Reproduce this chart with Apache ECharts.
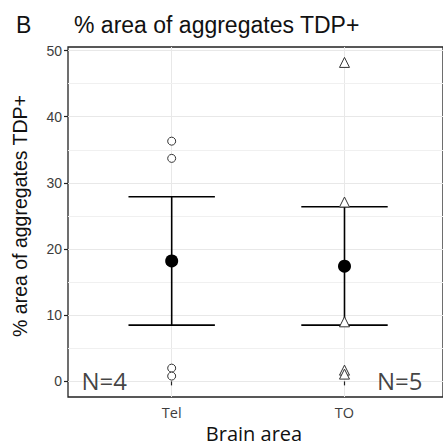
<!DOCTYPE html>
<html>
<head>
<meta charset="utf-8">
<script src="https://cdn.jsdelivr.net/npm/echarts@6/dist/echarts.min.js"></script>
<style>
html, body { margin: 0; padding: 0; background: #fff; }
#main { width: 443px; height: 446px; }
</style>
</head>
<body>
<div id="main"></div>
<script>
// data
var categories = ['Tel', 'TO'];
var telValues = [36.3, 33.7, 2.0, 0.8];
var toValues = [48.2, 27.1, 9.0, 1.7, 1.1];
var means = [18.2, 17.4];
var lower = [8.5, 8.5];
var upper = [27.9, 26.4];
var yTicks = [0, 10, 20, 30, 40, 50];
var yMinor = [5, 15, 25, 35, 45];

// svg renderer: rotated canvas text came out with a mirrored copy
var myChart = echarts.init(document.getElementById('main'), null, { renderer: 'svg' });

var rawStyle = { color: '#fff', borderColor: '#333', borderWidth: 1, opacity: 1 };

var option = {
    backgroundColor: '#fff',
    animation: false,
    textStyle: { fontFamily: 'Liberation Sans, Arial, sans-serif' },
    title: [
        { text: 'B', left: 11, top: 8, textStyle: { fontSize: 23, fontWeight: 'normal', color: '#111' } },
        { text: '% area of aggregates TDP+', left: 69, top: 8, textStyle: { fontSize: 23, fontWeight: 'normal', color: '#111' } }
    ],
    graphic: [
        {
            type: 'text', x: 20, y: 216, rotation: Math.PI / 2, silent: true,
            style: { text: '% area of aggregates TDP+', fontSize: 19.5, fill: '#111',
                     fontFamily: 'Liberation Sans, Arial, sans-serif', align: 'center', verticalAlign: 'middle' }
        },
        {
            type: 'text', x: 254, y: 433, silent: true,
            style: { text: 'Brain area', fontSize: 20, fill: '#111',
                     fontFamily: 'Open Sans, sans-serif', align: 'center', verticalAlign: 'middle' }
        }
    ],
    grid: {
        left: 68, top: 47, right: 0, bottom: 49,
        show: true, borderColor: '#222', borderWidth: 1.3, backgroundColor: 'transparent'
    },
    xAxis: {
        type: 'value',
        min: 0.4,
        max: 2.57,
        axisLine: { show: false },
        axisTick: { show: true, length: 4, customValues: [1, 2], lineStyle: { color: '#222', width: 1.2 } },
        axisLabel: {
            customValues: [1, 2],
            margin: 8,
            fontSize: 14.5,
            color: '#3d3d3d',
            fontFamily: 'Open Sans, sans-serif',
            formatter: function (v) { return categories[Math.round(v) - 1]; }
        },
        splitLine: { show: true, lineStyle: { color: '#e8e8e8', width: 1 } }
    },
    yAxis: {
        type: 'value',
        min: -2.36,
        max: 50.53,
        axisLine: { show: false },
        axisTick: { show: true, length: 4, customValues: yTicks, lineStyle: { color: '#222', width: 1.2 } },
        axisLabel: { customValues: yTicks, margin: 6, fontSize: 14, color: '#3d3d3d' },
        splitLine: { show: true, lineStyle: { color: '#e8e8e8', width: 1.2 } }
    },
    series: [
        {
            type: 'scatter',
            symbol: 'circle',
            symbolSize: 8,
            itemStyle: rawStyle,
            data: telValues.map(function (v) { return [1, v]; }),
            // minor horizontal gridlines
            markLine: {
                silent: true,
                symbol: 'none',
                label: { show: false },
                lineStyle: { color: '#f0f0f0', width: 1, type: 'solid' },
                z: 0,
                data: yMinor.map(function (v) { return { yAxis: v }; })
            }
        },
        {
            type: 'scatter',
            symbol: 'triangle',
            symbolSize: 10,
            itemStyle: rawStyle,
            data: toValues.map(function (v) { return [2, v]; })
        },
        {
            type: 'custom',
            encode: { x: 0, y: [1, 2] },
            data: categories.map(function (c, i) { return [i + 1, lower[i], upper[i]]; }),
            renderItem: function (params, api) {
                var x = api.value(0);
                var lo = api.coord([x, api.value(1)]);
                var hi = api.coord([x, api.value(2)]);
                var half = api.size([0.25, 0])[0];
                var st = { stroke: '#000', lineWidth: 1.6 };
                return {
                    type: 'group',
                    children: [
                        { type: 'line', shape: { x1: lo[0], y1: lo[1], x2: hi[0], y2: hi[1] }, style: st },
                        { type: 'line', shape: { x1: lo[0] - half, y1: lo[1], x2: lo[0] + half, y2: lo[1] }, style: st },
                        { type: 'line', shape: { x1: hi[0] - half, y1: hi[1], x2: hi[0] + half, y2: hi[1] }, style: st }
                    ]
                };
            }
        },
        {
            type: 'scatter',
            symbol: 'circle',
            symbolSize: 13,
            itemStyle: { color: '#000', opacity: 1 },
            data: means.map(function (m, i) { return [i + 1, m]; })
        },
        {
            type: 'scatter',
            symbolSize: 0,
            label: {
                show: true,
                position: 'inside',
                fontSize: 24,
                color: '#111',
                fontFamily: 'Open Sans, sans-serif',
                formatter: function (p) { return p.data[2]; }
            },
            data: [
                [0.61, 0.2, 'N=' + telValues.length],
                [2.32, 0.2, 'N=' + toValues.length]
            ]
        }
    ]
};

myChart.setOption(option);
</script>
</body>
</html>
